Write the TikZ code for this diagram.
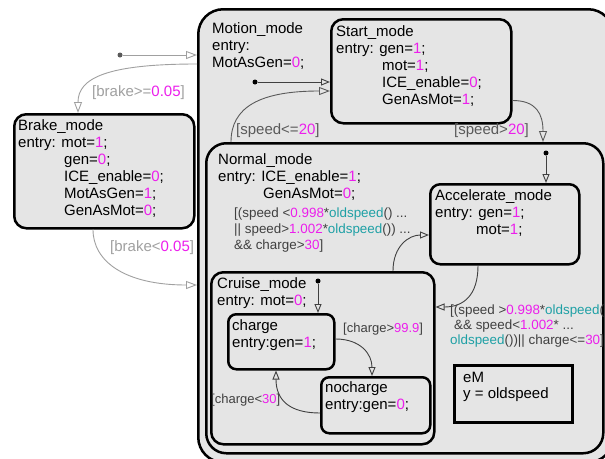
\documentclass[tikz,border=0pt]{standalone}
\usepackage{fontspec}
\setmainfont{Liberation Sans}
\usetikzlibrary{arrows.meta,calc}
\definecolor{sfill}{RGB}{229,229,229}
\definecolor{mg}{RGB}{236,30,236}
\definecolor{tl}{RGB}{30,160,165}
\definecolor{lgray}{RGB}{160,160,160}
\definecolor{mgray}{RGB}{90,90,90}
\definecolor{dgray}{RGB}{64,64,64}
\newcommand{\mgc}[1]{\textcolor{mg}{#1}}
\newcommand{\tlc}[1]{\textcolor{tl}{#1}}
\tikzset{
  sbox/.style={draw=black, line width=2.5pt, fill=sfill, anchor=north west, inner sep=0pt},
  stxt/.style={anchor=north west, inner sep=0pt, align=left, font=\fontsize{15}{17}\selectfont},
  ltxt/.style={anchor=base west, inner sep=0pt, font=\fontsize{15}{17}\selectfont},
  smtxt/.style={anchor=north west, inner sep=0pt, align=left, text=dgray, font=\fontsize{13.4}{16}\selectfont},
  sltxt/.style={anchor=base west, inner sep=0pt, text=dgray, font=\fontsize{13}{16}\selectfont},
  trl/.style={draw=lgray, line width=0.9pt, -{Triangle[open,length=11pt,width=8pt]}},
  trm/.style={draw=mgray, line width=0.9pt, -{Triangle[open,length=11pt,width=8pt]}},
  trd/.style={draw=dgray, line width=0.9pt, -{Triangle[open,length=9pt,width=7pt]}},
  sdot/.style={circle, inner sep=0pt, minimum size=5pt},
}
\begin{document}
\begin{tikzpicture}[x=1pt,y=-1pt]
\useasboundingbox (0,0) rectangle (605,458);
\fill[white] (0,0) rectangle (605,458);
\clip (0,0) rectangle (605,458);

% states
\node[sbox, rounded corners=25pt, minimum width=415pt, minimum height=453pt] (motion) at (197,8) {};
\node[sbox, rounded corners=12pt, minimum width=180pt, minimum height=104pt] (start) at (330,18) {};
\node[sbox, rounded corners=12pt, minimum width=180pt, minimum height=114pt] (brake) at (13,113) {};
\node[sbox, rounded corners=20pt, minimum width=397pt, minimum height=310pt] (normal) at (205,142) {};
\node[sbox, rounded corners=10pt, minimum width=149pt, minimum height=80pt] (accel) at (429,183) {};
\node[sbox, rounded corners=12pt, minimum width=223pt, minimum height=172pt] (cruise) at (210,271) {};
\node[sbox, rounded corners=8pt, minimum width=106pt, minimum height=55pt] (charge) at (227,313) {};
\node[sbox, rounded corners=8pt, minimum width=109pt, minimum height=56pt] (nocharge) at (320,376) {};
\node[sbox, minimum width=118pt, minimum height=57pt] (em) at (453,364) {};

% default transition dots
\node[sdot, fill=mgray] (d1) at (120,55) {};
\node[sdot, fill=black] (d2) at (255,82) {};
\node[sdot, fill=black] (d3) at (546,153) {};
\node[sdot, fill=black] (d4) at (318,281) {};

% transitions
\draw[trl] (d1) -- (d1 -| motion.west);
\draw[trl] ($(motion.north west)+(0,56)$) .. controls +(-90,0) and +(0,-35) .. ($(brake.north west)+(65,0)$);
\draw[trl] ($(brake.south west)+(80,0)$) .. controls +(0,32) and +(-72,0) .. ($(motion.north west)+(0,277)$);
\draw[trd] (d2) -- (d2 -| start.west);
\draw[trm] ($(normal.north west)+(26,0)$) .. controls +(0,-35) and +(-70,0) .. ($(start.north west)+(0,73)$);
\draw[trm] ($(start.south east)+(0,-24)$) .. controls +(24,0) and +(0,-28) .. ($(normal.north west)+(338,0)$);
\draw[trd] (d3) -- (d3 |- accel.north);
\draw[trd] ($(cruise.north west)+(183,0)$) .. controls +(0,-25) and +(-20,0) .. ($(accel.north west)+(0,52)$);
\draw[trd] ($(accel.south west)+(49,0)$) .. controls +(0,30) and +(28,0) .. ($(cruise.north east)+(0,36)$);
\draw[trd] (d4) -- (d4 |- charge.north);
\draw[trd] ($(charge.north east)+(0,26)$) .. controls +(25,0) and +(0,-22) .. ($(nocharge.north west)+(52,0)$);
\draw[trd] ($(nocharge.north west)+(0,37)$) .. controls +(-30,0) and +(0,30) .. ($(charge.south west)+(49,0)$);

% state texts
\node[stxt] (motiontxt) at (212,21) {\strut Motion\_mode\\entry:\\MotAsGen=\mgc{0};};
\node[stxt] (starttxt) at (336,24) {\strut Start\_mode\\entry: gen=\mgc{1};\\\hspace*{46pt}mot=\mgc{1};\\\hspace*{46pt}ICE\_enable=\mgc{0};\\\hspace*{46pt}GenAsMot=\mgc{1};};
\node[stxt] (braketxt) at (18,118) {\strut Brake\_mode\\entry: mot=\mgc{1};\\\hspace*{46pt}gen=\mgc{0};\\\hspace*{46pt}ICE\_enable=\mgc{0};\\\hspace*{46pt}MotAsGen=\mgc{1};\\\hspace*{46pt}GenAsMot=\mgc{0};};
\node[stxt] (normaltxt) at (218,152) {\strut Normal\_mode\\entry: ICE\_enable=\mgc{1};\\\hspace*{45pt}GenAsMot=\mgc{0};};
\node[smtxt] (normalguard) at (234,206) {\strut[(speed <\mgc{0.998}*\tlc{oldspeed}() ...\\|| speed>\mgc{1.002}*\tlc{oldspeed}()) ...\\\&\& charge>\mgc{30}]};
\node[stxt] (acceltxt) at (435,188) {\strut Accelerate\_mode\\entry: gen=\mgc{1};\\\hspace*{41pt}mot=\mgc{1};};
\node[stxt] (cruisetxt) at (217,276) {\strut Cruise\_mode\\entry: mot=\mgc{0};};
\node[stxt] (chargetxt) at (232,318) {\strut charge\\entry:gen=\mgc{1};};
\node[stxt] (nochargetxt) at (325,380) {\strut nocharge\\entry:gen=\mgc{0};};
\node[stxt, font=\fontsize{15}{15.5}\selectfont] (emtxt) at (463,371) {\strut eM\\y = oldspeed};

% transition labels
\node[ltxt, text=lgray] (lb1) at (92,96) {[brake>=\mgc{0.05}]};
\node[ltxt, text=lgray] (lb2) at (110,251) {[brake<\mgc{0.05}]};
\node[ltxt, text=mgray] (ls1) at (236,134) {[speed<=\mgc{20}]};
\node[ltxt, text=mgray] (ls2) at (454,134) {[speed>\mgc{20}]};
\node[smtxt, font=\fontsize{13.4}{15}\selectfont] (lac) at (450,304) {\strut[(speed >\mgc{0.998}*\tlc{oldspeed}(\\\hspace*{4pt}\&\& speed<\mgc{1.002}* ...\\\tlc{oldspeed}())|| charge<=\mgc{30}]};
\node[sltxt] (lc1) at (343,332) {[charge>\mgc{99.9}]};
\node[sltxt] (lc2) at (211,403) {[charge<\mgc{30}]};
\end{tikzpicture}
\end{document}
